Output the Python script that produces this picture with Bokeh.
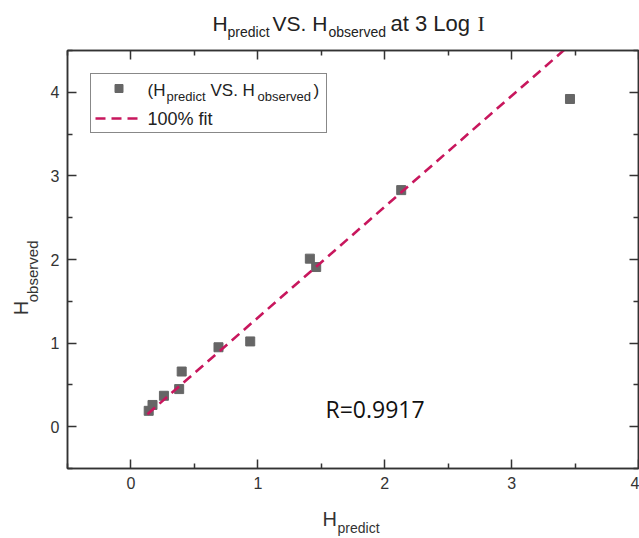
from bokeh.plotting import figure
from bokeh.models import (Label, Legend, LegendItem, LinearAxis, FixedTicker, Range1d)
from bokeh.layouts import column, row
from bokeh.embed import file_html
from bokeh.resources import INLINE
from math import pi

# ---- data ----
h_predict = [0.14, 0.17, 0.26, 0.38, 0.40, 0.69, 0.94, 1.41, 1.46, 2.13, 3.46]
h_observed = [0.19, 0.26, 0.37, 0.45, 0.66, 0.95, 1.02, 2.01, 1.91, 2.83, 3.92]
fit_x = [0.13, 3.50]
fit_y = [0.15, 4.62]
x_ticks = [0, 1, 2, 3, 4]
x_minor = [-0.5, 0.5, 1.5, 2.5, 3.5]
y_ticks = [0, 1, 2, 3, 4]
y_minor = [-0.5, 0.5, 1.5, 2.5, 3.5, 4.5]
r_text = "R=0.9917"

# ---- geometry (canvas pixels) ----
W, H = 639, 538
TOP_H = 45          # title strip height
BOT_H = 43          # x-title strip height
LEFT_W = 46         # y-title strip width
FL, FR, FT, FB = 67, 638, 50, 468   # main frame edges on the whole page
X0, X1, Y0, Y1 = -0.5, 4.0, -0.5, 4.5
MID = 0.37          # baseline -> middle offset (fraction of font size)

MAIN_W = W - LEFT_W
MAIN_H = H - TOP_H - BOT_H

def px(x):
    return X0 + (x - FL) * (X1 - X0) / (FR - FL)

def py(y):
    return Y1 - (y - FT) * (Y1 - Y0) / (FB - FT)

AX = "#333333"
TF = "Liberation Sans"

def strip(w, h):
    f = figure(width=w, height=h, output_backend="svg", toolbar_location=None,
               x_range=Range1d(0, w), y_range=Range1d(h, 0),
               min_border=0, x_axis_type=None, y_axis_type=None)
    f.xgrid.visible = False
    f.ygrid.visible = False
    f.outline_line_color = None
    f.background_fill_color = "white"
    f.border_fill_color = "white"
    return f

def slab(f, text, x, y, size, font=TF, color="#222222", rotated=False):
    # (x, y) is the start of the text on its baseline, in strip pixels
    if rotated:
        ax_, ay_, ang = x - MID * size, y, pi / 2
    else:
        ax_, ay_, ang = x, y - MID * size, 0
    f.add_layout(Label(x=ax_, y=ay_, text=text, text_font=font,
                       text_font_size=f"{size}px", text_color=color,
                       text_align="left", text_baseline="middle",
                       angle=ang, level="overlay"))

# ---- title strip ----
tf = strip(W, TOP_H)
slab(tf, "H", 212, 31, 21)
slab(tf, "predict", 227, 37, 14)
slab(tf, "VS. H", 272, 31, 21)
slab(tf, "observed", 328, 37, 14)
slab(tf, "at 3 Log", 390, 31, 22)
slab(tf, "I", 477, 31, 22, font="Liberation Serif")

# ---- y-title strip ----
lf = strip(LEFT_W, MAIN_H)
oy = TOP_H
slab(lf, "H", 28, 330 - oy, 20, color="#333333", rotated=True)
slab(lf, "observed", 38, 316 - oy, 15, color="#333333", rotated=True)

# ---- x-title strip ----
bf = strip(W, BOT_H)
ob = H - BOT_H
slab(bf, "H", 322, 526 - ob, 20, color="#333333")
slab(bf, "predict", 337, 533 - ob, 14, color="#333333")

# ---- main figure ----
p = figure(width=MAIN_W, height=MAIN_H, output_backend="svg", toolbar_location=None,
           x_range=Range1d(X0, X1), y_range=Range1d(Y0, Y1),
           min_border_left=FL - LEFT_W, min_border_right=W - FR,
           min_border_top=FT - TOP_H, min_border_bottom=(H - BOT_H) - FB,
           x_axis_type=None, y_axis_type=None)
p.xgrid.visible = False
p.ygrid.visible = False
p.outline_line_color = AX
p.outline_line_width = 1.5
p.background_fill_color = "white"
p.border_fill_color = "white"

def style_axis(ax, labels=True):
    ax.axis_line_color = AX
    ax.axis_line_width = 1.5
    ax.major_tick_line_color = AX
    ax.minor_tick_line_color = AX
    ax.major_tick_line_width = 1.5
    ax.minor_tick_line_width = 1.5
    ax.major_tick_in = 9
    ax.major_tick_out = 0
    ax.minor_tick_in = 5
    ax.minor_tick_out = 0
    ax.axis_label = None
    if labels:
        ax.major_label_text_font = TF
        ax.major_label_text_font_size = "16px"
        ax.major_label_text_color = "#333333"
    else:
        ax.major_label_text_alpha = 0
        ax.major_label_text_font_size = "1px"
        ax.major_label_standoff = 0

xb = LinearAxis(ticker=FixedTicker(ticks=x_ticks, minor_ticks=x_minor))
style_axis(xb)
xb.major_label_standoff = 8
p.add_layout(xb, "below")
yl = LinearAxis(ticker=FixedTicker(ticks=y_ticks, minor_ticks=y_minor))
style_axis(yl)
yl.major_label_standoff = 8
p.add_layout(yl, "left")
xt = LinearAxis(ticker=FixedTicker(ticks=x_ticks, minor_ticks=x_minor))
style_axis(xt, labels=False)
p.add_layout(xt, "above")
yr = LinearAxis(ticker=FixedTicker(ticks=y_ticks, minor_ticks=y_minor))
style_axis(yr, labels=False)
p.add_layout(yr, "right")

pts = p.scatter(h_predict, h_observed, marker="square", size=9,
                fill_color="#666666", line_color="#666666")
fit = p.line(fit_x, fit_y, line_color="#C8175D", line_width=2.6, line_dash="10 6")

legend = Legend(items=[LegendItem(label=" ", renderers=[pts]),
                       LegendItem(label=" ", renderers=[fit])],
                location="top_left", margin=23, padding=4, spacing=10,
                glyph_width=47, glyph_height=20, label_height=20,
                label_width=170, label_standoff=10,
                border_line_color="#111111", border_line_width=1,
                background_fill_color="white", background_fill_alpha=0.0)
p.add_layout(legend, "center")

def lab(text, x, y, size, font=TF, color="#222222"):
    # (x, y): start of text on its baseline, in page pixels
    p.add_layout(Label(x=px(x), y=py(y - MID * size), text=text, text_font=font,
                       text_font_size=f"{size}px", text_color=color,
                       text_align="left", text_baseline="middle",
                       level="overlay"))

# legend texts
lab("(H", 147, 96, 17)
lab("predict", 166, 101, 13)
lab("VS. H", 210, 96, 17)
lab("observed", 257, 101, 13)
lab(")", 313, 96, 17)
lab("100% fit", 147, 125, 18)

# R value
lab(r_text, 325, 417, 23, font="Open Sans", color="#111111")

layout = column(tf, row(lf, p), bf)
open("out.html", "w").write(file_html(layout, INLINE))
